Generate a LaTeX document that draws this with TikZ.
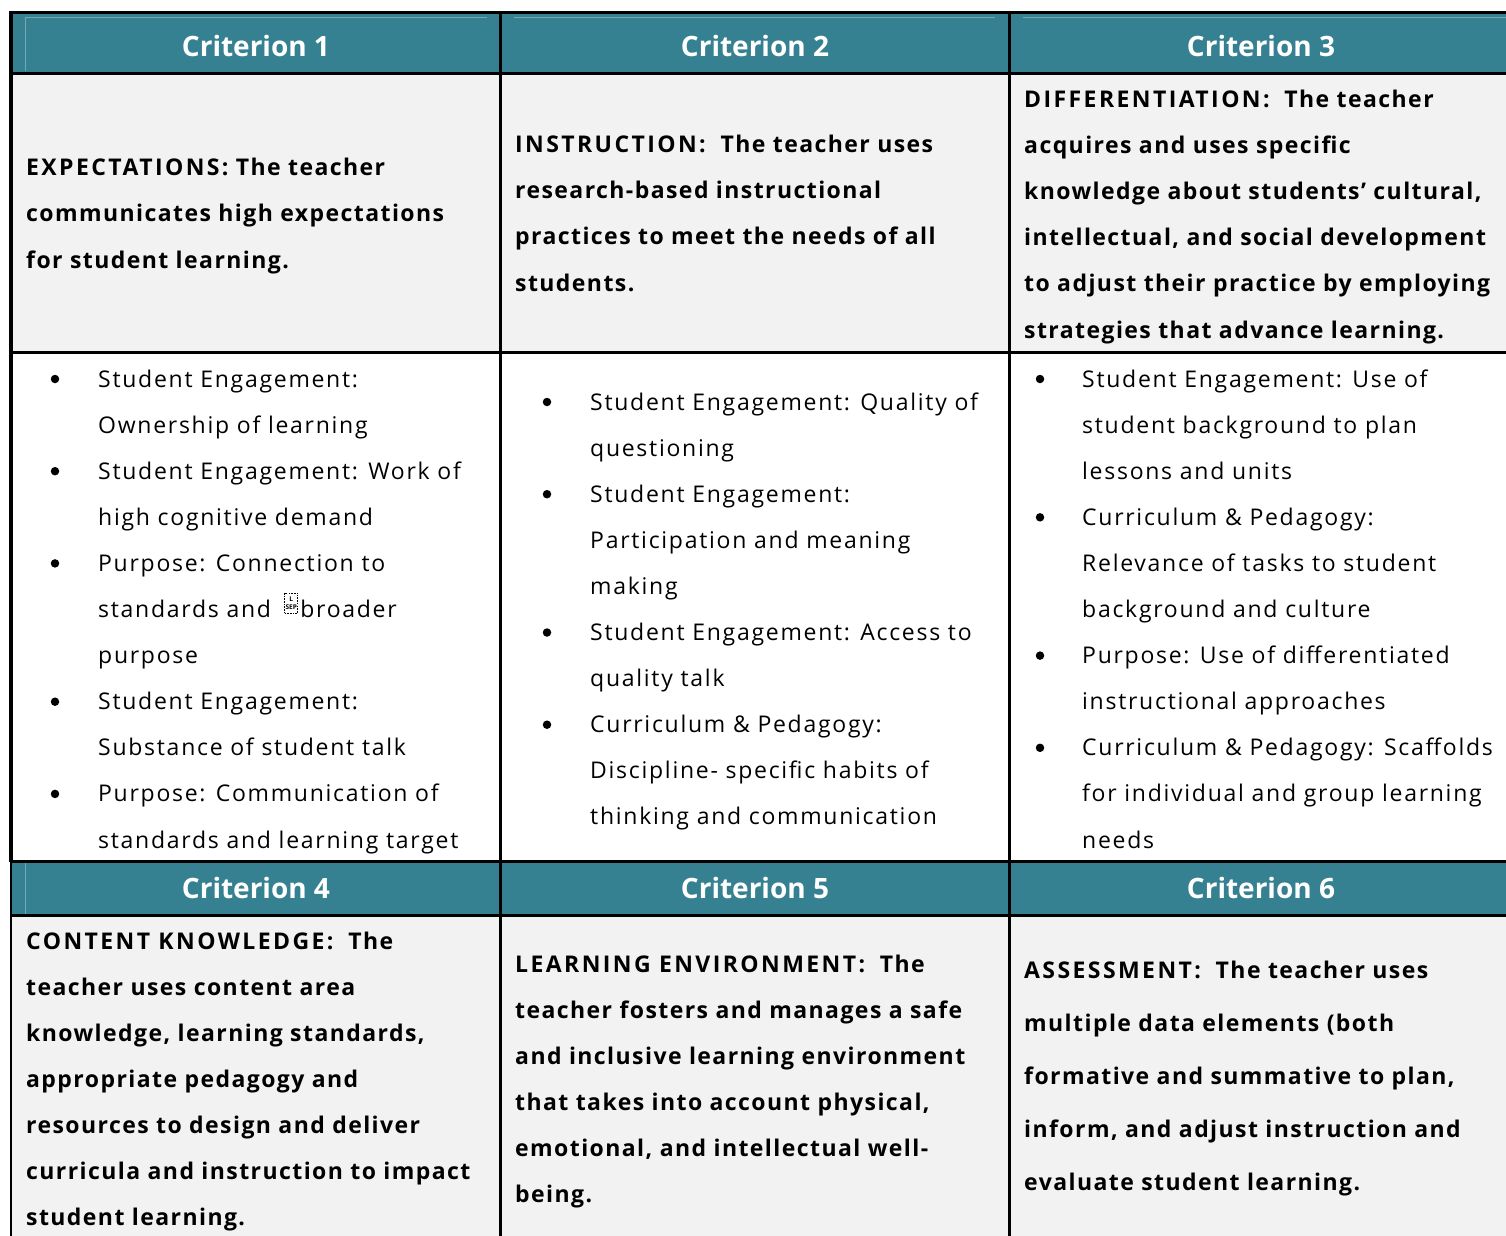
\documentclass[tikz,border=0pt]{standalone}
\usepackage{fontspec}
\newfontfamily\hdrfont{Open Sans}
\newfontfamily\bodyfont{Open Sans}[LetterSpace=7.5, BoldFeatures={LetterSpace=6.2}]
\newfontfamily\capsfont{Open Sans}[LetterSpace=10.5, BoldFeatures={LetterSpace=10.5}]
\newcommand{\lead}[1]{{\capsfont\bfseries #1}}
\definecolor{teal1}{HTML}{368191}
\definecolor{gray1}{HTML}{F2F2F2}
\definecolor{tealline}{HTML}{74A8B4}
\tikzset{
  hdr/.style={font=\hdrfont\bfseries\fontsize{28}{30}\selectfont, text=white, anchor=base, inner sep=0pt},
  bodyb/.style={font=\bodyfont\bfseries\fontsize{23}{46.1}\selectfont, anchor=base west, align=left, inner sep=0pt},
  bodyr/.style={font=\bodyfont\fontsize{23}{46.1}\selectfont, anchor=base west, align=left, inner sep=0pt},
  bul/.style={circle, fill=black, minimum size=8.5pt, inner sep=0pt},
  rule/.style={line width=2.5pt, black},
  faint/.style={line width=0.8pt, tealline},
  sepglyph/.style={draw, dash pattern=on 1.6pt off 1.1pt, line width=0.9pt, inner sep=0pt,
    minimum width=13pt, minimum height=20pt, align=center,
    font=\hdrfont\bfseries\fontsize{6.5}{7.5}\selectfont},
}
\begin{document}
\begin{tikzpicture}[x=1pt,y=-1pt]
\useasboundingbox (0,0) rectangle (1506,1235);
\clip (0,0) rectangle (1506,1235);
% fills
\fill[teal1] (11,12.5) rectangle (1510,73.5);
\fill[gray1] (11,73.5) rectangle (1510,352.5);
\fill[white] (11,352.5) rectangle (1510,861.5);
\fill[teal1] (11,861.5) rectangle (1510,915.5);
\fill[gray1] (11,915.5) rectangle (1510,1240);
% faint inner header lines
\draw[faint] (25,17.5) -- (487,17.5);
\draw[faint] (25,17.5) -- (25,71);
\draw[faint] (514,17.5) -- (995,17.5);
\draw[faint] (1023,17.5) -- (1510,17.5);
\draw[faint] (25,863) -- (25,914);
% rules
\draw[line width=3pt] (9.5,12.5) -- (1510,12.5);
\draw[rule] (11,73.5) -- (1510,73.5);
\draw[rule] (11,352.5) -- (1510,352.5);
\draw[rule] (11,861.5) -- (1510,861.5);
\draw[rule] (11,915.5) -- (1510,915.5);
\draw[line width=3.5pt] (11,11) -- (11,862);
\draw[line width=2pt] (11,862) -- (11,1240);
\draw[rule] (500.5,11) -- (500.5,1240);
\draw[rule] (1009.5,11) -- (1009.5,1240);
% headers
\node[hdr] (h1) at (256,56) {Criterion 1};
\node[hdr] (h2) at (755,56) {Criterion 2};
\node[hdr] (h3) at (1261,56) {Criterion 3};
\node[hdr] (h4) at (256,898) {Criterion 4};
\node[hdr] (h5) at (755,898) {Criterion 5};
\node[hdr] (h6) at (1261,898) {Criterion 6};
% row 2 (anchored at the baseline of the last line)
\node[bodyb] (c1) at (26,268) {\lead{EXPECTATIONS:} The teacher\\communicates high expectations\\for student learning.};
\node[bodyb] (c2) at (515,291) {\lead{INSTRUCTION:}\ \ The teacher uses\\research-based instructional\\practices to meet the needs of all\\students.};
\node[bodyb] (c3) at (1024,338) {\lead{DIFFERENTIATION:}\ \ The teacher\\acquires and uses specific\\knowledge about students’ cultural,\\intellectual, and social development\\to adjust their practice by employing\\strategies that advance learning.};
% row 3, column 1
\node[bul] (b11) at (55,379) {};
\node[bodyr] (i11) at (98,433.1) {Student Engagement:\\Ownership of learning};
\node[bul] (b12) at (55,471.2) {};
\node[bodyr] (i12) at (98,525.3) {Student Engagement: Work of\\high cognitive demand};
\node[bul] (b13) at (55,563.4) {};
\node[bodyr] (i13a) at (98,571.4) {Purpose: Connection to};
\node[bodyr] (i13b) at (98,617.5) {standards and};
\node[sepglyph, anchor=south west] (sep) at ([xshift=13pt,yshift=4pt]i13b.base east) {L\\SEP};
\node[bodyr] (i13c) at ([xshift=2pt]sep.east |- i13b.base) {broader};
\node[bodyr] (i13d) at (98,663.6) {purpose};
\node[bul] (b14) at (55,701.7) {};
\node[bodyr] (i14) at (98,755.8) {Student Engagement:\\Substance of student talk};
\node[bul] (b15) at (55,793.9) {};
\node[bodyr] (i15) at (98,848) {Purpose: Communication of\\standards and learning target};
% row 3, column 2
\node[bul] (b21) at (547,402) {};
\node[bodyr] (i21) at (590,456.1) {Student Engagement: Quality of\\questioning};
\node[bul] (b22) at (547,494.2) {};
\node[bodyr] (i22) at (590,594.4) {Student Engagement:\\Participation and meaning\\making};
\node[bul] (b23) at (547,632.5) {};
\node[bodyr] (i23) at (590,686.6) {Student Engagement: Access to\\quality talk};
\node[bul] (b24) at (547,724.7) {};
\node[bodyr] (i24) at (590,824.9) {Curriculum \& Pedagogy:\\Discipline- specific habits of\\thinking and communication};
% row 3, column 3
\node[bul] (b31) at (1040,379) {};
\node[bodyr] (i31) at (1082,479.2) {Student Engagement: Use of\\student background to plan\\lessons and units};
\node[bul] (b32) at (1040,517.3) {};
\node[bodyr] (i32) at (1082,617.5) {Curriculum \& Pedagogy:\\Relevance of tasks to student\\background and culture};
\node[bul] (b33) at (1040,655.6) {};
\node[bodyr] (i33) at (1082,709.7) {Purpose: Use of differentiated\\instructional approaches};
\node[bul] (b34) at (1040,747.8) {};
\node[bodyr] (i34) at (1082,848) {Curriculum \& Pedagogy: Scaffolds\\for individual and group learning\\needs};
% row 5
\node[bodyb] (c4) at (26,1225.6) {\lead{CONTENT KNOWLEDGE:}\ \ The\\teacher uses content area\\knowledge, learning standards,\\appropriate pedagogy and\\resources to design and deliver\\curricula and instruction to impact\\student learning.};
\node[bodyb] (c5) at (515,1202.5) {\lead{LEARNING ENVIRONMENT:}\ \ The\\teacher fosters and manages a safe\\and inclusive learning environment\\that takes into account physical,\\emotional, and intellectual well-\\being.};
\node[bodyb, font=\bodyfont\bfseries\fontsize{23}{53}\selectfont] (c6) at (1024,1190) {\lead{ASSESSMENT:}\ \ The teacher uses\\multiple data elements (both\\formative and summative to plan,\\inform, and adjust instruction and\\evaluate student learning.};
\end{tikzpicture}
\end{document}
